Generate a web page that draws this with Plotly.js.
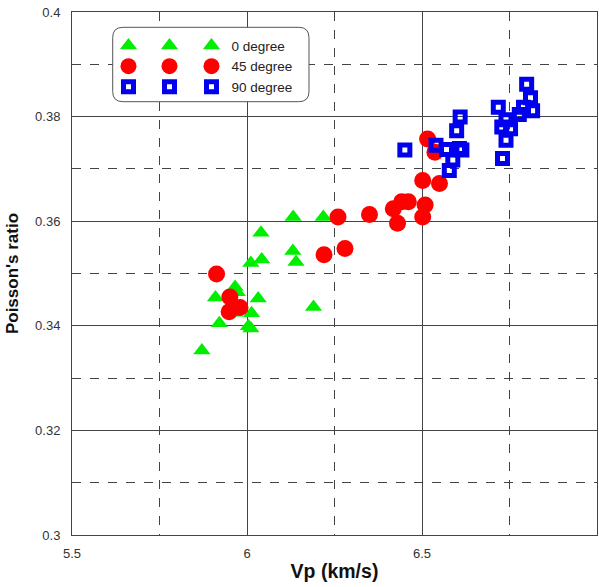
<!DOCTYPE html>
<html>
<head>
<meta charset="utf-8">
<script src="https://cdn.plot.ly/plotly-3.0.1.min.js"></script>
<style>
html,body{margin:0;padding:0;background:#fff;}
#chart{width:599px;height:587px;}
#chart .legend .traces, #chart .legend2 .traces, #chart .legend3 .traces{opacity:1 !important;}
</style>
</head>
<body>
<div id="chart"></div>
<script>
// 0 degree (green triangles)
const vp0 = [6.132, 6.218, 6.040, 6.131, 6.140, 6.042, 6.011, 5.966, 5.972, 5.910, 6.032, 6.190, 6.013, 5.921, 6.004, 6.011, 5.871, 5.965];
const pr0 = [0.3608, 0.3608, 0.3578, 0.3543, 0.3522, 0.3527, 0.3520, 0.3474, 0.3464, 0.3454, 0.3452, 0.3436, 0.3424, 0.3405, 0.3399, 0.3395, 0.3353, 0.3425];
// 45 degree (red circles)
const vp45 = [5.913, 5.951, 5.949, 5.980, 6.220, 6.260, 6.280, 6.350, 6.418, 6.442, 6.461, 6.430, 6.502, 6.509, 6.502, 6.550, 6.516, 6.537];
const pr45 = [0.3499, 0.3455, 0.3427, 0.3435, 0.3536, 0.3608, 0.3548, 0.3613, 0.3624, 0.3637, 0.3637, 0.3596, 0.3608, 0.3631, 0.3678, 0.3672, 0.3757, 0.3732];
// 90 degree (blue open squares)
const vp90 = [6.799, 6.810, 6.816, 6.790, 6.778, 6.718, 6.740, 6.728, 6.753, 6.740, 6.730, 6.609, 6.599, 6.540, 6.570, 6.607, 6.588, 6.578, 6.451, 6.614];
const pr90 = [0.3862, 0.3836, 0.3811, 0.3818, 0.3804, 0.3818, 0.3794, 0.3780, 0.3777, 0.3755, 0.3720, 0.3799, 0.3773, 0.3745, 0.3737, 0.3739, 0.3717, 0.3697, 0.3736, 0.3736];

const seriesNames = ['0 degree', '45 degree', '90 degree'];
const xTickVals = [5.5, 6, 6.5, 7];
const yTickVals = [0.3, 0.32, 0.34, 0.36, 0.38, 0.4];

const font = 'Arial, "Liberation Sans", sans-serif';

const markers = [
  {symbol: 'triangle-up', size: 15, color: '#00ee00', line: {width: 0}},
  {symbol: 'circle', size: 17, color: '#ff0000', line: {width: 0}},
  {symbol: 'square-open', size: 10, color: '#0000ee', line: {width: 5, color: '#0000ee'}}
];
const xs = [vp0, vp45, vp90];
const ys = [pr0, pr45, pr90];

const traces = [];
// Data traces, listed in the third legend column with their names
for (let i = 0; i < 3; i++) {
  traces.push({x: xs[i], y: ys[i], name: seriesNames[i], type: 'scatter', mode: 'markers',
    marker: markers[i], legend: 'legend3'});
}
// Legend-only repeats of the same series (symbol columns 1 and 2 of the legend box)
['legend', 'legend2'].forEach(function (lg) {
  for (let i = 0; i < 3; i++) {
    traces.push({x: xs[i], y: ys[i], name: ' ', type: 'scatter', mode: 'markers',
      marker: markers[i], legend: lg, visible: 'legendonly', hoverinfo: 'skip'});
  }
});

const axisCommon = {
  showline: true, mirror: true, linecolor: '#444', linewidth: 1,
  showgrid: true, gridcolor: '#444', gridwidth: 1,
  zeroline: false, ticks: '', automargin: false,
  tickfont: {family: font, size: 13, color: '#333'}
};

function legendAt(x) {
  return {
    x: x, y: 0.965, xanchor: 'left', yanchor: 'top',
    bgcolor: 'rgba(0,0,0,0)', borderwidth: 0,
    font: {family: font, size: 13.5, color: '#222'},
    tracegroupgap: 0, itemsizing: 'trace', traceorder: 'normal'
  };
}

const layout = {
  width: 599, height: 587,
  margin: {l: 72, r: 2, t: 12, b: 52},
  paper_bgcolor: '#fff', plot_bgcolor: '#fff',
  font: {family: font},
  showlegend: true,
  legend: legendAt(0.0695),
  legend2: legendAt(0.1476),
  legend3: legendAt(0.2276),
  xaxis: Object.assign({}, axisCommon, {
    range: [5.5, 7], tickvals: xTickVals, ticktext: xTickVals.map(String),
    ticklabelstandoff: 6,
    minor: {dtick: 0.25, tick0: 5.5, showgrid: true, gridcolor: '#444', griddash: 'dash', gridwidth: 1, ticks: ''},
    title: {text: 'Vp (km/s)', font: {family: font, size: 19.5, color: '#111', weight: 'bold'}, standoff: 4}
  }),
  yaxis: Object.assign({}, axisCommon, {
    range: [0.3, 0.4], tickvals: yTickVals, ticktext: yTickVals.map(v => String(v)),
    ticklabelstandoff: 8,
    minor: {dtick: 0.01, tick0: 0.3, showgrid: true, gridcolor: '#444', griddash: 'dash', gridwidth: 1, ticks: ''},
    title: {text: "Poisson's ratio", font: {family: font, size: 17, color: '#111', weight: 'bold'}, standoff: 12}
  }),
  shapes: [{
    type: 'path', xref: 'paper', yref: 'paper', layer: 'above',
    path: 'M 0.097,0.9707 L 0.432,0.9707 Q 0.4514,0.9707 0.4514,0.951 L 0.4514,0.848 Q 0.4514,0.8285 0.432,0.8285 L 0.097,0.8285 Q 0.0775,0.8285 0.0775,0.848 L 0.0775,0.951 Q 0.0775,0.9707 0.097,0.9707 Z',
    line: {color: '#555', width: 1}, fillcolor: '#ffffff'
  }]
};

Plotly.newPlot('chart', traces, layout, {displayModeBar: false, staticPlot: true});
</script>
</body>
</html>
